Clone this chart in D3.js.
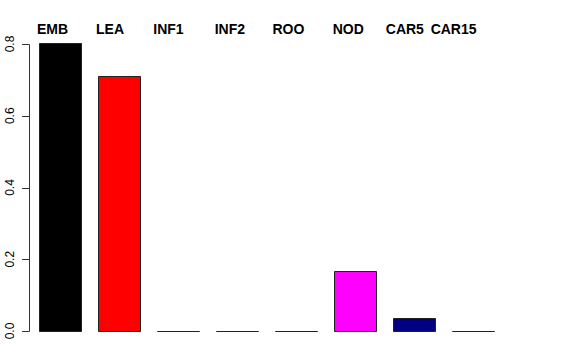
<!DOCTYPE html>
<html>
<head>
<meta charset="utf-8" />
<style>
    html, body { margin: 0; padding: 0; background: #fff; }
    text { font-family: "Liberation Sans", Arial, sans-serif; }
</style>
</head>
<body>
<svg width="576" height="360"></svg>
<script src="https://d3js.org/d3.v7.min.js"></script>
<script>
    var categories = ["EMB", "LEA", "INF1", "INF2", "ROO", "NOD", "CAR5", "CAR15"];
    var values = [0.803, 0.711, 0, 0, 0, 0.168, 0.035, 0];
    var colors = ["#000000", "#ff0000", "#00cd00", "#0000ff", "#00ffff", "#ff00ff", "#000080", "#bebebe"];
    var yTicks = [0, 0.2, 0.4, 0.6, 0.8];
    // where each top label starts, in bar slots (the last two are squeezed left)
    var labelSlot = [0, 1, 1.97, 3.01, 3.99, 5.01, 5.91, 6.67];

    var svg = d3.select("svg");

    var x = d3.scaleBand()
        .domain(categories)
        .range([38.5, 493.5])
        .paddingInner(0.29)
        .paddingOuter(0);

    var y = d3.scaleLinear()
        .domain([0, 0.8])
        .range([331, 44]);

    var slot = d3.scaleLinear()
        .domain([0, 1])
        .range([37, 37 + x.step()]);

    // bars as closed paths so zero-height bars still show their border
    svg.append("g")
        .selectAll("path")
        .data(values)
        .enter().append("path")
        .attr("d", function (d, i) {
            var x0 = Math.round(x(categories[i])) + 0.5,
                x1 = x0 + Math.round(x.bandwidth()),
                y0 = Math.round(y(0)) + 0.5,
                y1 = Math.round(y(d)) + 0.5;
            return "M" + x0 + "," + y0 + "V" + y1 + "H" + x1 + "V" + y0 + "Z";
        })
        .attr("fill", function (d, i) { return colors[i]; })
        .attr("stroke", "#222")
        .attr("stroke-width", 1);

    // y axis, drawn by hand in the R style
    var ax = svg.append("g").attr("stroke", "#333").attr("fill", "none");
    ax.append("line")
        .attr("x1", 29.5).attr("x2", 29.5)
        .attr("y1", Math.round(y(0.8)) + 0.5).attr("y2", Math.round(y(0)) + 0.5);
    ax.selectAll(".tick")
        .data(yTicks)
        .enter().append("line")
        .attr("x1", 22).attr("x2", 29.5)
        .attr("y1", function (d) { return Math.round(y(d)) + 0.5; })
        .attr("y2", function (d) { return Math.round(y(d)) + 0.5; });

    svg.append("g")
        .selectAll("text")
        .data(yTicks)
        .enter().append("text")
        .attr("transform", function (d) { return "translate(14," + y(d) + ") rotate(-90)"; })
        .attr("text-anchor", "middle")
        .attr("font-size", "12px")
        .attr("fill", "#000")
        .text(function (d) { return d3.format(".1f")(d); });

    svg.append("g")
        .selectAll("text")
        .data(categories)
        .enter().append("text")
        .attr("x", function (d, i) { return slot(labelSlot[i]); })
        .attr("y", 34)
        .attr("font-size", "14px")
        .attr("font-weight", "bold")
        .attr("fill", "#000")
        .text(function (d) { return d; });
</script>
</body>
</html>
